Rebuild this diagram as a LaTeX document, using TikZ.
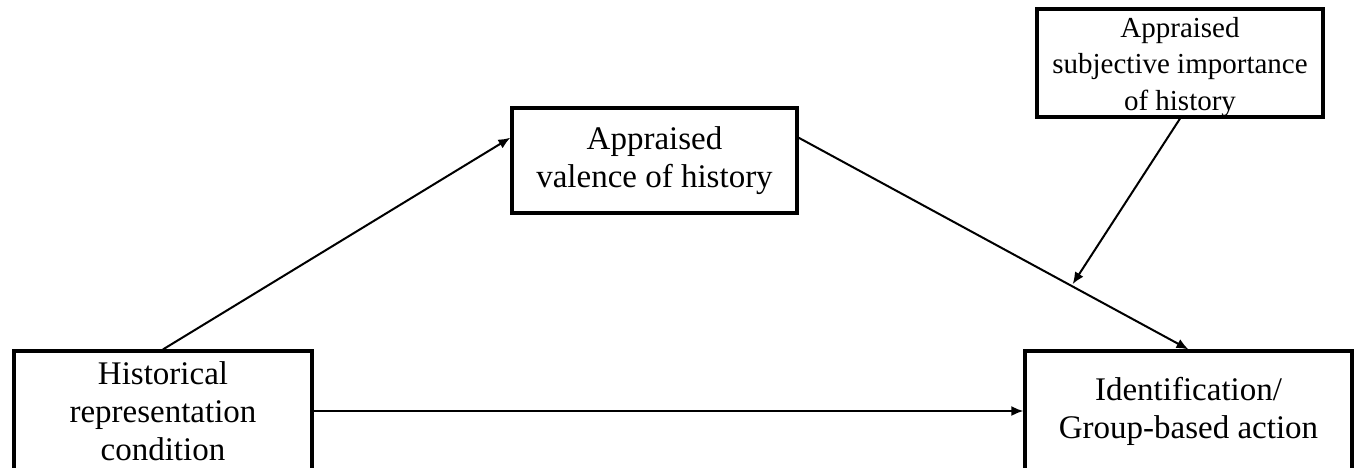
\documentclass[tikz,border=0pt]{standalone}
\usepackage{fontspec}
\setmainfont{Liberation Serif}
\usetikzlibrary{arrows.meta}
\tikzset{
  box/.style={draw,line width=1.6pt,align=center,inner sep=2pt,
    font=\fontsize{16.5}{19}\selectfont},
  smallbox/.style={box,inner ysep=0pt,font=\fontsize{14.5}{18.25}\selectfont},
  link/.style={line width=1pt,-{Latex[length=6pt,width=5pt]}}
}
\begin{document}
\begin{tikzpicture}[x=0.5pt,y=-0.5pt]
\useasboundingbox (0,0) rectangle (1356,467);
\clip (0,0) rectangle (1356,467);
% boxes
\node[box,minimum width=149pt,minimum height=60pt] (hist) at (163,411) {Historical\\representation\\condition};
\node[box,minimum width=142.5pt,minimum height=52.5pt] (valence) at (654.5,160.5) {Appraised\\valence of history};
\node[smallbox,minimum width=143pt,minimum height=54pt] (ipo) at (1180,63) {\rule{0pt}{14pt}Appraised\\subjective importance\\of history};
\node[box,minimum width=163.5pt,minimum height=60pt] (action) at (1188.5,411) {Identification/\\Group-based action};
% paths
\draw[link] (hist.north) -- (valence.171);
\draw[link] (valence.9) -- coordinate[pos=.7] (mod) (action.north);
\draw[link,shorten >=1pt] (ipo.south) -- (mod);
\draw[link] (hist.east) -- (action.west);
\end{tikzpicture}
\end{document}
